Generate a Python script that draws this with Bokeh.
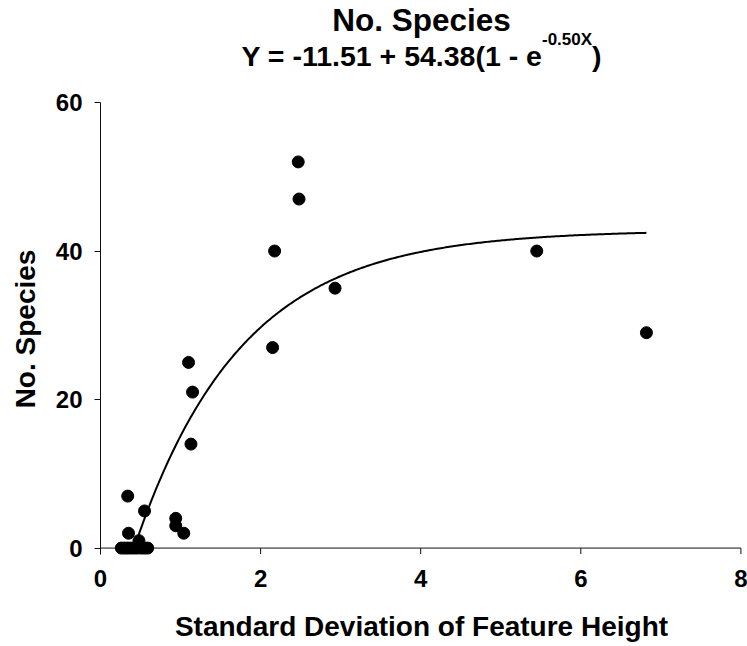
import numpy as np
from bokeh.plotting import figure
from bokeh.models import Range1d, Div
from bokeh.layouts import column
from bokeh.embed import file_html
from bokeh.resources import INLINE

# Data
sd_feature_height = [0.26, 0.30, 0.34, 0.38, 0.42, 0.46, 0.51, 0.55, 0.59,
                     0.48, 0.35, 0.34, 0.55, 0.94, 0.94, 1.04, 1.13, 1.10,
                     1.15, 2.15, 2.175, 2.47, 2.48, 2.93, 5.45, 6.82]
no_species = [0, 0, 0, 0, 0, 0, 0, 0, 0,
              1, 2, 7, 5, 4, 3, 2, 14, 25,
              21, 27, 40, 52, 47, 35, 40, 29]

# Equation printed in the chart title: Y = a + b(1 - e^(-kX))
eq_a = -11.51
eq_b = 54.38
eq_k = 0.50

# Parameters of the fitted curve as it is drawn in the picture
curve_a = -15.85
curve_b = 58.65
curve_k = 0.75

x_ticks = [0, 2, 4, 6, 8]
y_ticks = [0, 20, 40, 60]

FONT = "Liberation Sans"
AXIS_COLOR = "#111111"

x0 = -np.log(1 + curve_a / curve_b) / curve_k
x_fit = np.linspace(x0, max(sd_feature_height), 300)
y_fit = curve_a + curve_b * (1 - np.exp(-curve_k * x_fit))

title_html = (
    f'<div style="font-family:\'{FONT}\';font-weight:bold;color:black;'
    f'text-align:center;box-sizing:border-box;width:747px;padding-left:96px;padding-top:2px;">'
    f'<div style="font-size:31.5px;line-height:36px;height:36px;">No. Species</div>'
    f'<div style="font-size:28.5px;line-height:36px;height:36px;white-space:nowrap;">'
    f'Y = {eq_a:.2f} + {eq_b:.2f}(1 - e'
    f'<span style="font-size:17px;position:relative;top:-21px;">-{eq_k:.2f}X</span>)'
    f'</div></div>'
)
header = Div(text=title_html, width=747, height=80, margin=(0, 0, 0, 0))

p = figure(frame_width=642, frame_height=453,
           x_range=Range1d(0, 8.02), y_range=Range1d(-1.0, 60),
           output_backend="svg", toolbar_location=None,
           min_border_left=100, min_border_right=5,
           min_border_top=22, min_border_bottom=91, margin=(0, 0, 0, 0))

p.xgrid.visible = False
p.ygrid.visible = False
p.outline_line_color = None
p.background_fill_color = "white"
p.border_fill_color = "white"

# x axis line and downward tick marks at y = 0
p.line([x_ticks[0], x_ticks[-1]], [0, 0], line_color=AXIS_COLOR, line_width=1)
p.ray(x=x_ticks, y=[0] * len(x_ticks), length=6, length_units="screen",
      angle=-np.pi / 2, line_color=AXIS_COLOR, line_width=1)

p.line(x_fit, y_fit, line_color="black", line_width=2)
p.scatter(sd_feature_height, no_species, size=12, fill_color="black", line_color="black")

# bottom axis carries only the tick labels and the axis title
xa = p.xaxis[0]
xa.ticker = x_ticks
xa.axis_line_color = None
xa.major_tick_line_color = None
xa.minor_tick_line_color = None
xa.major_tick_out = 0
xa.major_tick_in = 0

ya = p.yaxis[0]
ya.ticker = y_ticks
ya.bounds = (-0.8, 60)
ya.axis_line_color = AXIS_COLOR
ya.axis_line_width = 1
ya.major_tick_line_color = AXIS_COLOR
ya.major_tick_out = 6
ya.major_tick_in = 0
ya.minor_tick_line_color = None

for ax in (xa, ya):
    ax.major_label_text_font = FONT
    ax.major_label_text_font_style = "bold"
    ax.major_label_text_font_size = "24px"
    ax.major_label_text_color = "black"
    ax.axis_label_text_font = FONT
    ax.axis_label_text_font_style = "bold"
    ax.axis_label_text_font_size = "28px"
    ax.axis_label_text_color = "black"

xa.axis_label = "Standard Deviation of Feature Height"
ya.axis_label = "No. Species"
xa.major_label_standoff = 14
xa.axis_label_standoff = 21
ya.major_label_standoff = 12
ya.axis_label_standoff = 12

layout = column(header, p, spacing=0)
open("out.html", "w").write(file_html(layout, INLINE))
